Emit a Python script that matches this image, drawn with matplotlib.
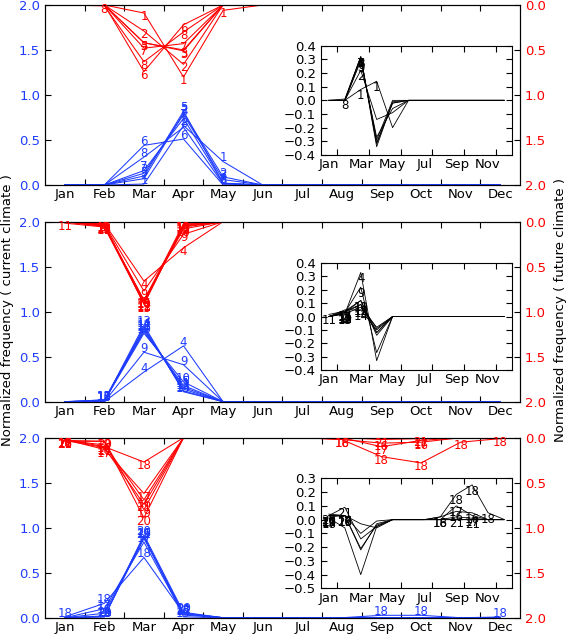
import matplotlib.pyplot as plt
import numpy as np

months = ['Jan', 'Feb', 'Mar', 'Apr', 'May', 'Jun',
          'Jul', 'Aug', 'Sep', 'Oct', 'Nov', 'Dec']

# panel 1 : normalized frequency per month, current (blue) and future (red)
ids1 = ['1', '2', '3', '5', '6', '7', '8']
cur1 = [
    [0, 0, 0.01, 0.66, 0.26, 0, 0, 0, 0, 0, 0, 0],
    [0, 0, 0.07, 0.80, 0.09, 0, 0, 0, 0, 0, 0, 0],
    [0, 0, 0.13, 0.78, 0.06, 0, 0, 0, 0, 0, 0, 0],
    [0, 0, 0.10, 0.82, 0.02, 0, 0, 0, 0, 0, 0, 0],
    [0, 0, 0.44, 0.51, 0, 0, 0, 0, 0, 0, 0, 0],
    [0, 0, 0.16, 0.74, 0.02, 0, 0, 0, 0, 0, 0, 0],
    [0, 0, 0.31, 0.64, 0.01, 0, 0, 0, 0, 0, 0, 0],
]
fut1 = [
    [0, 0, 0.09, 0.80, 0.06, 0, 0, 0, 0, 0, 0, 0],
    [0, 0, 0.29, 0.66, 0, 0, 0, 0, 0, 0, 0, 0],
    [0, 0, 0.42, 0.51, 0, 0, 0, 0, 0, 0, 0, 0],
    [0, 0, 0.42, 0.50, 0, 0, 0, 0, 0, 0, 0, 0],
    [0, 0, 0.74, 0.22, 0, 0, 0, 0, 0, 0, 0, 0],
    [0, 0, 0.48, 0.43, 0, 0, 0, 0, 0, 0, 0, 0],
    [0, 0.01, 0.63, 0.30, 0, 0, 0, 0, 0, 0, 0, 0],
]

# panel 2
ids2 = ['4', '9', '10', '11', '12', '13', '14', '15']
cur2 = [
    [0, 0, 0.33, 0.62, 0, 0, 0, 0, 0, 0, 0, 0],
    [0, 0, 0.55, 0.41, 0, 0, 0, 0, 0, 0, 0, 0],
    [0, 0.01, 0.76, 0.22, 0, 0, 0, 0, 0, 0, 0, 0],
    [0, 0.02, 0.79, 0.16, 0, 0, 0, 0, 0, 0, 0, 0],
    [0, 0.02, 0.81, 0.14, 0, 0, 0, 0, 0, 0, 0, 0],
    [0, 0.01, 0.85, 0.11, 0, 0, 0, 0, 0, 0, 0, 0],
    [0, 0, 0.83, 0.12, 0, 0, 0, 0, 0, 0, 0, 0],
    [0, 0.01, 0.78, 0.18, 0, 0, 0, 0, 0, 0, 0, 0],
]
fut2 = [
    [0, 0.02, 0.66, 0.29, 0, 0, 0, 0, 0, 0, 0, 0],
    [0, 0.03, 0.77, 0.14, 0, 0, 0, 0, 0, 0, 0, 0],
    [0, 0.04, 0.88, 0.08, 0, 0, 0, 0, 0, 0, 0, 0],
    [0.016, 0.06, 0.91, 0.04, 0, 0, 0, 0, 0, 0, 0, 0],
    [0, 0.05, 0.90, 0.05, 0, 0, 0, 0, 0, 0, 0, 0],
    [0, 0.03, 0.92, 0.03, 0, 0, 0, 0, 0, 0, 0, 0],
    [0, 0.05, 0.88, 0.02, 0, 0, 0, 0, 0, 0, 0, 0],
    [0, 0.05, 0.87, 0.06, 0, 0, 0, 0, 0, 0, 0, 0],
]

# panel 3
ids3 = ['16', '17', '18', '19', '20', '21']
cur3 = [
    [0, 0.05, 0.90, 0.04, 0, 0, 0, 0, 0, 0, 0, 0],
    [0, 0.10, 0.84, 0.03, 0, 0, 0, 0, 0, 0, 0, 0],
    [0.01, 0.16, 0.67, 0.05, 0, 0, 0, 0, 0.027, 0.027, 0, 0.008],
    [0, 0.01, 0.90, 0.01, 0, 0, 0, 0, 0, 0, 0, 0],
    [0, 0.01, 0.92, 0.06, 0, 0, 0, 0, 0, 0, 0, 0],
    [0, 0.02, 0.88, 0.05, 0, 0, 0, 0, 0, 0, 0, 0],
]
fut3 = [
    [0.03, 0.08, 0.69, 0, 0, 0, 0, 0.02, 0.06, 0.05, 0, 0],
    [0.02, 0.13, 0.62, 0, 0, 0, 0, 0, 0.10, 0.03, 0, 0],
    [0.02, 0.10, 0.27, 0, 0, 0, 0, 0.02, 0.21, 0.28, 0.05, 0.01],
    [0.03, 0.04, 0.80, 0, 0, 0, 0, 0, 0, 0, 0, 0],
    [0.04, 0.04, 0.89, 0, 0, 0, 0, 0, 0, 0, 0, 0],
    [0.03, 0.11, 0.74, 0, 0, 0, 0, 0, 0.02, 0.01, 0, 0],
]

inset_ylims = [(-0.4, 0.4), (-0.4, 0.4), (-0.5, 0.3)]

blue = '#1e3cff'
red = '#ff0000'

fig = plt.figure(figsize=(5.68, 6.35), dpi=100)

bottoms = [0.7087, 0.3674, 0.0272]
inset_pos = [[0.581, 0.167, 0.402, 0.606],
             [0.581, 0.176, 0.402, 0.594],
             [0.581, 0.163, 0.402, 0.611]]

x = np.arange(12)
panels = [(ids1, cur1, fut1), (ids2, cur2, fut2), (ids3, cur3, fut3)]

for k, (ids, cur, fut) in enumerate(panels):
    ax = fig.add_axes([0.0792, bottoms[k], 0.8363, 0.2835])
    ax2 = ax.twinx()

    for lab, c, f in zip(ids, cur, fut):
        c = np.array(c)
        f = np.array(f)
        ax.plot(x, c, color=blue, lw=0.75)
        ax2.plot(x, f, color=red, lw=0.75)
        for i in range(12):
            if c[i] > 0.005:
                ax.text(x[i], c[i] + 0.04, lab, color=blue, fontsize=8.5,
                        ha='center', va='center')
            if f[i] > 0.005:
                ax2.text(x[i], f[i] + 0.04, lab, color=red, fontsize=8.5,
                         ha='center', va='center')

    ax.set_xlim(-0.5, 11.5)
    ax.set_ylim(0, 2)
    ax2.set_ylim(2, 0)
    ax.set_xticks(np.arange(0.5, 11, 1))
    ax.set_xticklabels([])
    ax.set_xticks(x, minor=True)
    ax.set_xticklabels(months, minor=True, fontsize=9.5)
    ax.tick_params(axis='x', which='minor', length=0, pad=2.5)
    ax.tick_params(axis='x', which='major', direction='in', top=True, length=4)
    ax.set_yticks([0, 0.5, 1.0, 1.5, 2.0])
    ax2.set_yticks([0, 0.5, 1.0, 1.5, 2.0])
    ax.tick_params(axis='y', direction='in', length=4, labelcolor=blue, labelsize=9.5)
    ax2.tick_params(axis='y', direction='in', length=4, labelcolor=red, labelsize=9.5)

    # inset : future minus current
    ins = ax2.inset_axes(inset_pos[k])
    ins.set_facecolor('white')
    for lab, c, f in zip(ids, cur, fut):
        d = np.array(f) - np.array(c)
        ins.plot(x, d, color='k', lw=0.6)
        for i in range(12):
            if d[i] > 0.005:
                ins.text(x[i], d[i], lab, color='k', fontsize=8.5,
                         ha='center', va='top')
    lo, hi = inset_ylims[k]
    ins.set_xlim(-0.5, 11.5)
    ins.set_ylim(lo, hi)
    ins.set_yticks(np.round(np.arange(lo, hi + 0.01, 0.1), 1))
    ins.set_xticks(np.arange(0.5, 11, 2))
    ins.set_xticklabels([])
    ins.set_xticks(np.arange(0, 12, 2), minor=True)
    ins.set_xticklabels(months[::2], minor=True, fontsize=9.5)
    ins.tick_params(axis='x', which='minor', length=0, pad=2.5)
    ins.tick_params(which='major', direction='in', top=True, right=True,
                    length=4, labelsize=9.5)

fig.text(0.013, 0.512, 'Normalized frequency ( current climate )', rotation=90,
         ha='center', va='center', fontsize=9.5)
fig.text(0.986, 0.512, 'Normalized frequency ( future climate )', rotation=90,
         ha='center', va='center', fontsize=9.5)

plt.savefig('out.png', dpi=100)
